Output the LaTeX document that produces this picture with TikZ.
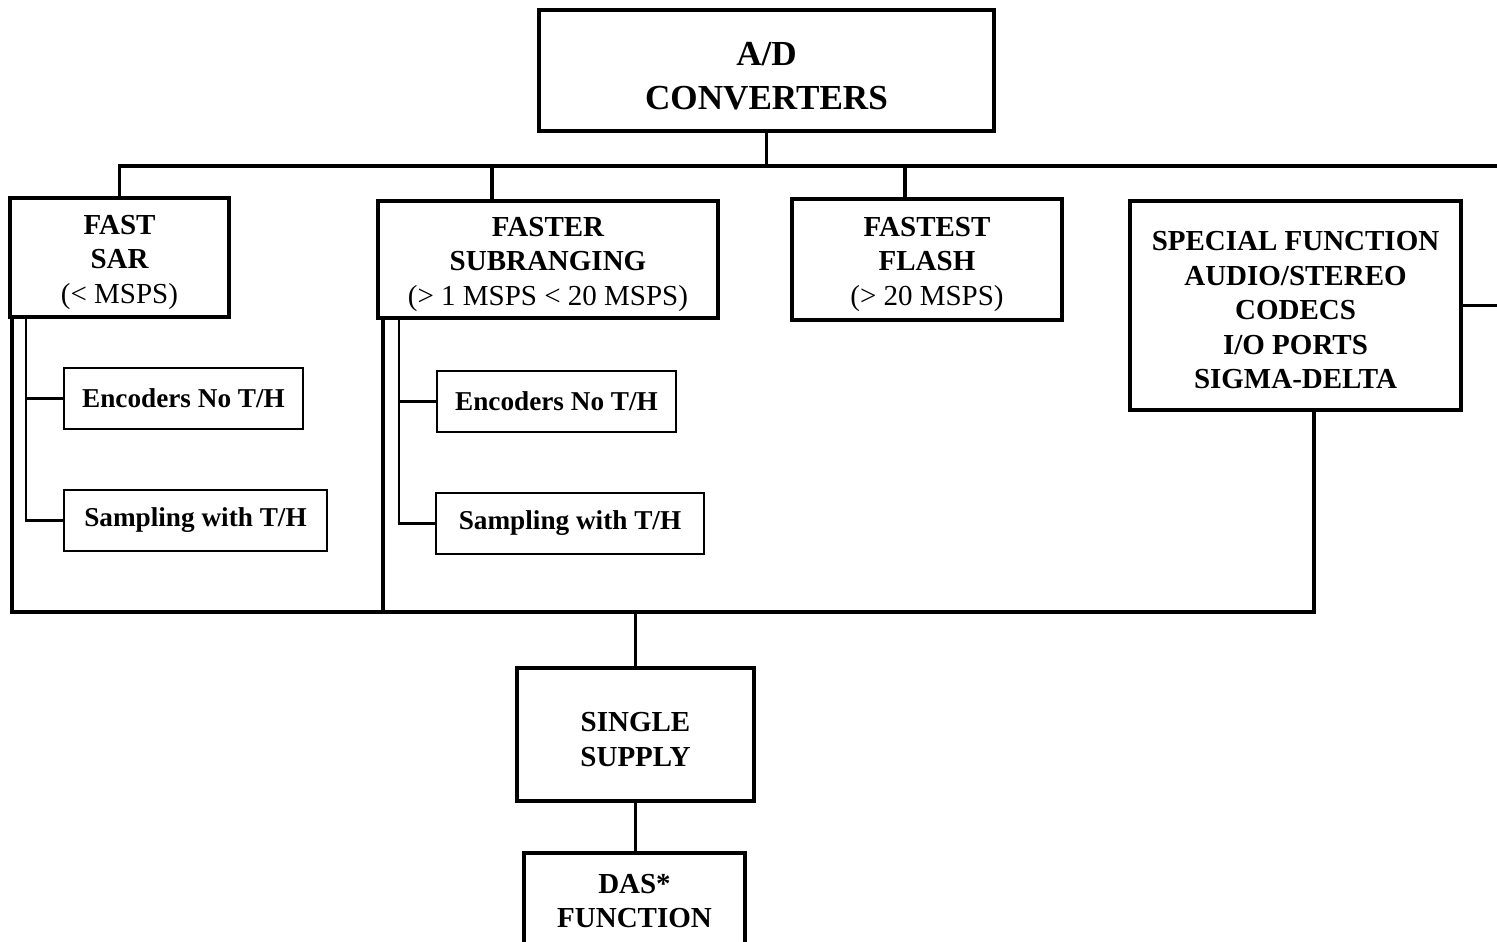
\documentclass[tikz,border=0pt]{standalone}
\usepackage{fontspec}
\setmainfont{Liberation Serif}
\newcommand{\lift}{\rule{0pt}{1em}}

\begin{document}
\begin{tikzpicture}[x=0.02cm, y=-0.02cm,
  bigbox/.style={draw, line width=2.2pt, align=center, inner sep=0pt,
    font=\fontsize{16.5}{19.6}\selectfont\bfseries},
  smallbox/.style={draw, line width=1.1pt, align=center, inner sep=0pt,
    minimum height=1.23cm, font=\fontsize{15.5}{18}\selectfont\bfseries},
  link/.style={line width=2.2pt},
  sublink/.style={line width=1.5pt}]
  \useasboundingbox (0,0) rectangle (1497,941);

  % top level
  \node[bigbox, minimum width=9.1cm, minimum height=2.42cm,
    font=\fontsize{20}{25}\selectfont\bfseries] (adc) at (766.5,70.5) {\lift A/D\\CONVERTERS};

  % converter families
  \node[bigbox, minimum width=4.38cm, minimum height=2.38cm] (sar) at (119.5,257.5)
    {\lift FAST\\SAR\\\textmd{(< MSPS)}};
  \node[bigbox, minimum width=6.8cm, minimum height=2.34cm] (subr) at (548,259.5)
    {\lift FASTER\\SUBRANGING\\\textmd{(> 1 MSPS < 20 MSPS)}};
  \node[bigbox, minimum width=5.4cm, minimum height=2.42cm] (flash) at (927,259.5)
    {\lift FASTEST\\FLASH\\\textmd{(> 20 MSPS)}};
  \node[bigbox, minimum width=6.62cm, minimum height=4.18cm] (special) at (1295.5,305.5)
    {\lift SPECIAL FUNCTION\\AUDIO/STEREO\\CODECS\\I/O PORTS\\SIGMA-DELTA};

  % sub types
  \node[smallbox, minimum width=4.78cm] (encsar) at (183.5,398.5) {Encoders No T/H};
  \node[smallbox, minimum width=5.26cm] (smpsar) at (195.5,520.5) {Sampling with T/H};
  \node[smallbox, minimum width=4.78cm] (encsub) at (556.5,401.5) {Encoders No T/H};
  \node[smallbox, minimum width=5.36cm] (smpsub) at (570,523.5) {Sampling with T/H};

  % bottom
  \node[bigbox, minimum width=4.74cm, minimum height=2.66cm] (single) at (635.5,734.5)
    {\lift SINGLE\\SUPPLY};
  \node[bigbox, minimum width=4.42cm, minimum height=1.92cm] (das) at (634.5,901)
    {DAS*\\FUNCTION};

  % bus coordinates
  \coordinate (topbus) at (1497,166);
  \coordinate (lowbus) at (0,612);
  \coordinate (subtop) at ([xshift=-1.12cm]subr.north);
  \coordinate (flashtop) at ([xshift=-0.44cm]flash.north);
  \coordinate (sarout) at ([xshift=0.08cm]sar.south west);
  \coordinate (sarin) at ([xshift=0.36cm]sar.south west);
  \coordinate (subout) at ([xshift=0.14cm]subr.south west);
  \coordinate (subin) at ([xshift=0.46cm]subr.south west);
  \coordinate (specout) at ([xshift=0.37cm]special.south);

  % upper bus
  \draw[link] (sar.north) |- (topbus);
  \draw[link] (adc.south) -- (adc.south |- topbus);
  \draw[link] (subtop) -- (subtop |- topbus);
  \draw[link] (flashtop) -- (flashtop |- topbus);
  \draw[link] (special.east) -- (special.east -| topbus);

  % lower bus
  \draw[link] (sarout) -- (sarout |- lowbus) -- (specout |- lowbus) -- (specout);
  \draw[link] (subout) -- (subout |- lowbus);
  \draw[link] (single.north) -- (single.north |- lowbus);
  \draw[link] (single.south) -- (single.south |- das.north);

  % branches to sub types
  \draw[sublink] (sarin) |- (smpsar.west);
  \draw[sublink] (encsar.west) -- (encsar.west -| sarin);
  \draw[sublink] (subin) |- (smpsub.west);
  \draw[sublink] (encsub.west) -- (encsub.west -| subin);
\end{tikzpicture}
\end{document}
